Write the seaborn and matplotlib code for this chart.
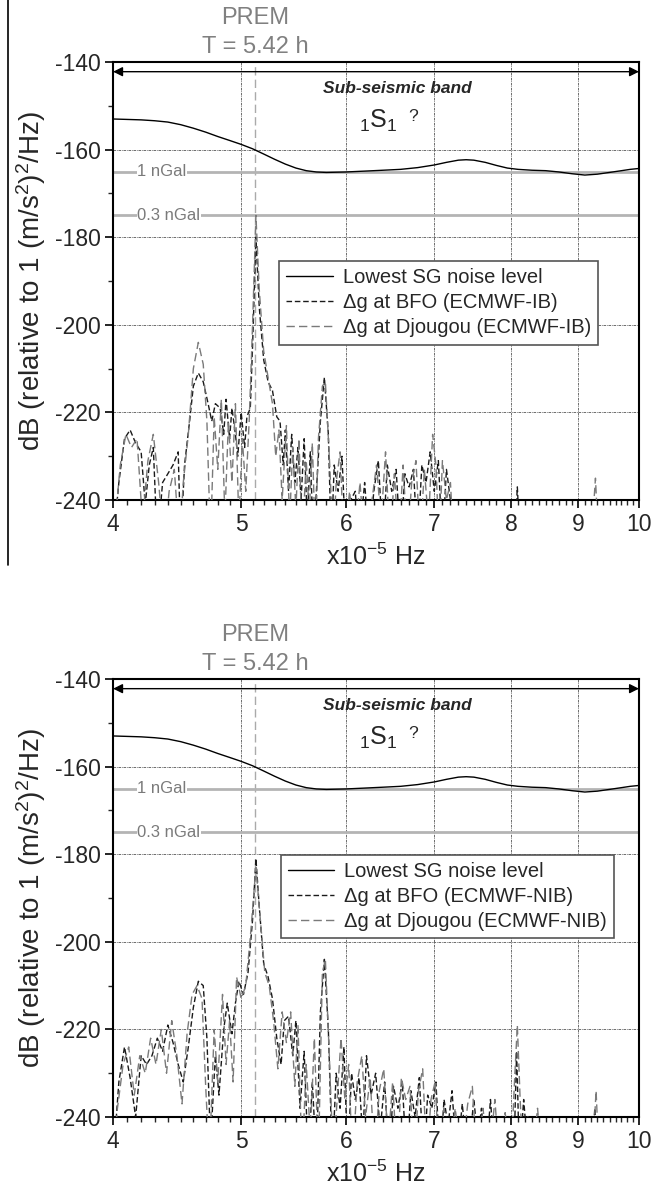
import numpy as np
import pandas as pd
import matplotlib
matplotlib.use("Agg")
import matplotlib.pyplot as plt
from matplotlib.ticker import FixedLocator, NullFormatter
from matplotlib.lines import Line2D
import seaborn as sns

# lowest SG noise level (dB), frequencies in 1e-5 Hz
noise_freq = [4.0, 4.1, 4.2, 4.3, 4.4, 4.5, 4.6, 4.7, 4.8, 4.9, 5.0, 5.1, 5.2, 5.3, 5.4, 5.5,
              5.6, 5.7, 5.8, 6.0, 6.2, 6.4, 6.6, 6.8, 7.0, 7.15, 7.3, 7.4, 7.5, 7.65, 7.8, 7.95,
              8.1, 8.3, 8.5, 8.7, 8.9, 9.1, 9.3, 9.5, 9.7, 9.85, 10.0]
noise_db = [-153.0, -153.1, -153.2, -153.4, -153.7, -154.3, -155.1, -156.0, -157.0, -157.9,
            -158.8, -159.8, -161.0, -162.2, -163.3, -164.2, -164.8, -165.1, -165.2, -165.1,
            -164.9, -164.7, -164.5, -164.1, -163.5, -162.9, -162.4, -162.3, -162.4, -162.9,
            -163.6, -164.2, -164.5, -164.7, -164.8, -165.1, -165.5, -165.8, -165.6, -165.2,
            -164.8, -164.5, -164.3]

# top panel (ECMWF-IB)
bfo_ib_freq = [4.00, 4.04, 4.08, 4.12, 4.16, 4.20, 4.23, 4.26, 4.29, 4.32, 4.36, 4.40, 4.44, 4.48,
               4.50, 4.53, 4.57, 4.60, 4.64, 4.68, 4.72, 4.75, 4.78, 4.82, 4.85, 4.87, 4.90, 4.92,
               4.95, 4.97, 5.00, 5.03, 5.05, 5.08, 5.10, 5.13, 5.16, 5.20, 5.24, 5.28, 5.32, 5.35,
               5.38, 5.40, 5.43, 5.46, 5.49, 5.52, 5.55, 5.58, 5.61, 5.64, 5.67, 5.70, 5.74, 5.78,
               5.82, 5.85, 5.88, 5.92, 5.96, 6.00, 6.05, 6.10, 6.14, 6.20, 6.25, 6.30, 6.35, 6.40,
               6.45, 6.50, 6.55, 6.60, 6.65, 6.70, 6.75, 6.80, 6.85, 6.90, 6.95, 7.00, 7.05, 7.10,
               7.15, 7.20, 7.25, 8.05, 8.09, 8.13]
bfo_ib_db = [-250, -236, -226, -224, -227, -229, -241, -232, -228, -250, -236, -234, -232, -229,
             -250, -232, -222, -214, -211, -213, -218, -222, -218, -219, -225, -217, -226, -219,
             -225, -230, -220, -228, -221, -219, -205, -180, -196, -208, -213, -215, -221, -222,
             -232, -224, -238, -225, -236, -228, -240, -226, -245, -229, -250, -238, -222, -212,
             -225, -250, -232, -238, -230, -250, -240, -238, -250, -236, -250, -238, -231, -250,
             -232, -238, -233, -250, -234, -237, -233, -250, -232, -236, -229, -238, -231, -250,
             -233, -240, -250, -250, -237, -250]

djg_ib_freq = [4.00, 4.05, 4.09, 4.13, 4.17, 4.21, 4.25, 4.29, 4.33, 4.37, 4.41, 4.45, 4.49, 4.52,
               4.56, 4.60, 4.64, 4.68, 4.71, 4.74, 4.77, 4.80, 4.83, 4.86, 4.89, 4.92, 4.95, 4.98,
               5.01, 5.04, 5.07, 5.10, 5.13, 5.16, 5.20, 5.24, 5.28, 5.31, 5.34, 5.37, 5.41, 5.44,
               5.47, 5.50, 5.53, 5.56, 5.60, 5.63, 5.66, 5.69, 5.72, 5.76, 5.79, 5.83, 5.87, 5.90,
               5.94, 5.98, 6.04, 6.09, 6.15, 6.20, 6.28, 6.33, 6.38, 6.43, 6.48, 6.53, 6.58, 6.63,
               6.68, 6.73, 6.78, 6.83, 6.88, 6.93, 6.98, 7.02, 7.06, 7.10, 7.15, 7.20, 7.24, 9.20,
               9.27, 9.32]
djg_ib_db = [-250, -232, -225, -228, -226, -245, -231, -225, -236, -250, -238, -233, -250, -236,
             -225, -210, -204, -209, -222, -250, -221, -233, -217, -244, -222, -236, -218, -245,
             -226, -238, -222, -200, -175, -192, -206, -212, -218, -230, -224, -240, -223, -245,
             -228, -242, -226, -250, -231, -243, -227, -250, -226, -214, -213, -230, -250, -236,
             -229, -250, -238, -250, -236, -250, -240, -232, -245, -229, -250, -234, -250, -232,
             -250, -236, -231, -250, -233, -245, -225, -232, -250, -231, -240, -236, -250, -250,
             -235, -250]

# bottom panel (ECMWF-NIB)
bfo_nib_freq = [4.00, 4.04, 4.08, 4.12, 4.16, 4.20, 4.24, 4.28, 4.32, 4.36, 4.40, 4.44, 4.48, 4.52,
                4.56, 4.60, 4.64, 4.68, 4.71, 4.74, 4.78, 4.81, 4.85, 4.88, 4.92, 4.95, 4.98, 5.02,
                5.06, 5.10, 5.13, 5.16, 5.20, 5.24, 5.28, 5.32, 5.36, 5.39, 5.43, 5.47, 5.50, 5.54,
                5.58, 5.62, 5.66, 5.70, 5.74, 5.78, 5.82, 5.86, 5.90, 5.94, 5.98, 6.02, 6.06, 6.10,
                6.14, 6.18, 6.22, 6.27, 6.32, 6.37, 6.42, 6.47, 6.52, 6.57, 6.62, 6.67, 6.72, 6.77,
                6.82, 6.87, 6.92, 6.97, 7.02, 7.07, 7.12, 7.17, 7.22, 7.28, 7.35, 7.42, 7.50, 7.55,
                7.60, 7.66, 7.72, 7.78, 7.84, 7.90, 7.98, 8.04, 8.08, 8.12, 8.18, 8.25, 8.32, 8.40,
                9.20, 9.26, 9.30]
bfo_nib_db = [-250, -232, -224, -231, -240, -226, -228, -226, -222, -225, -219, -223, -228, -232,
              -224, -215, -209, -210, -222, -246, -226, -235, -220, -214, -221, -214, -209, -212,
              -207, -195, -181, -192, -205, -208, -213, -222, -228, -218, -217, -226, -218, -238,
              -225, -250, -232, -250, -216, -204, -220, -250, -230, -238, -224, -250, -230, -236,
              -231, -245, -226, -235, -230, -243, -232, -250, -233, -238, -232, -250, -234, -240,
              -231, -250, -235, -238, -232, -250, -236, -242, -234, -250, -237, -250, -236, -245,
              -238, -250, -236, -250, -240, -250, -240, -250, -225, -250, -236, -250, -240, -250,
              -250, -238, -250]

djg_nib_freq = [4.00, 4.03, 4.07, 4.11, 4.15, 4.19, 4.23, 4.27, 4.31, 4.35, 4.39, 4.43, 4.47, 4.51,
                4.55, 4.59, 4.63, 4.67, 4.70, 4.73, 4.77, 4.80, 4.84, 4.87, 4.90, 4.93, 4.96, 5.00,
                5.04, 5.08, 5.13, 5.17, 5.21, 5.25, 5.29, 5.33, 5.37, 5.41, 5.45, 5.49, 5.52, 5.56,
                5.60, 5.64, 5.68, 5.72, 5.76, 5.79, 5.83, 5.87, 5.91, 5.95, 5.99, 6.03, 6.07, 6.12,
                6.17, 6.21, 6.26, 6.31, 6.36, 6.41, 6.46, 6.51, 6.56, 6.61, 6.66, 6.71, 6.76, 6.81,
                6.86, 6.91, 6.96, 7.01, 7.06, 7.12, 7.18, 7.26, 7.34, 7.42, 7.48, 7.54, 7.62, 7.70,
                7.78, 7.84, 7.92, 8.00, 8.05, 8.09, 8.13, 8.17, 8.24, 8.30, 8.38, 8.45, 9.22, 9.28,
                9.33]
djg_nib_db = [-250, -238, -228, -224, -235, -226, -230, -222, -228, -220, -230, -218, -226, -237,
              -221, -212, -210, -213, -233, -250, -220, -232, -212, -228, -218, -232, -208, -213,
              -210, -199, -183, -195, -207, -210, -218, -229, -216, -223, -216, -233, -219, -250,
              -228, -244, -222, -250, -207, -204, -226, -250, -236, -222, -236, -228, -250, -232,
              -226, -240, -231, -250, -234, -229, -246, -232, -250, -231, -236, -233, -250, -234,
              -229, -250, -236, -232, -250, -238, -250, -238, -250, -237, -233, -250, -238, -250,
              -236, -250, -239, -250, -232, -219, -236, -250, -240, -250, -238, -250, -250, -234,
              -250]

prem_freq = 5.125
ngal_levels = [-165, -175]
ngal_labels = ["1 nGal", "0.3 nGal"]
major_x = [4, 5, 6, 7, 8, 9, 10]
minor_x = [round(4 + 0.1 * i, 1) for i in range(61) if i % 10 != 0]

sns.set_theme(style="white")
plt.rcParams["font.family"] = ["Liberation Sans", "DejaVu Sans"]
plt.rcParams["mathtext.fontset"] = "custom"
plt.rcParams["mathtext.rm"] = "Liberation Sans"
plt.rcParams["mathtext.it"] = "Liberation Sans:italic"
plt.rcParams["axes.unicode_minus"] = False

fig = plt.figure(figsize=(6.54, 11.98), dpi=100)
ax_top = fig.add_axes([0.173, 0.5826, 0.804, 0.3656])
ax_bot = fig.add_axes([0.173, 0.0676, 0.804, 0.3656])

panels = [
    (ax_top, bfo_ib_freq, bfo_ib_db, djg_ib_freq, djg_ib_db, "IB", (0.316, 0.545)),
    (ax_bot, bfo_nib_freq, bfo_nib_db, djg_nib_freq, djg_nib_db, "NIB", (0.319, 0.598)),
]

grid_ls = (0, (3, 1, 1, 1))
for ax, bf, bd, dfq, dd, tag, leg_pos in panels:
    ax.set_xscale("log")
    ax.set_xlim(4, 10)
    ax.set_ylim(-240, -140)

    for xv in major_x[1:-1]:
        ax.axvline(xv, color="#555555", lw=0.6, ls=grid_ls, zorder=1)
    for yv in [-220, -200, -180, -160]:
        ax.axhline(yv, color="#555555", lw=0.6, ls=grid_ls, zorder=1)

    ax.axvline(prem_freq, color="#aaaaaa", lw=1.0, ls=(0, (6, 3)), zorder=1)

    for lev, lab in zip(ngal_levels, ngal_labels):
        ax.axhline(lev, color="#b4b4b4", lw=2.0, zorder=2)
        ax.text(0.046, lev, lab, transform=ax.get_yaxis_transform(), fontsize=12,
                color="#7a7a7a", va="center", ha="left", zorder=3,
                bbox=dict(facecolor="white", edgecolor="none", pad=0.5))

    sns.lineplot(x=noise_freq, y=noise_db, ax=ax, color="black", lw=1.0, sort=False,
                 estimator=None, zorder=4)
    sns.lineplot(x=bf, y=bd, ax=ax, color="#1a1a1a", lw=1.0, sort=False,
                 estimator=None, zorder=5, dashes=False)
    sns.lineplot(x=dfq, y=dd, ax=ax, color="#7a7a7a", lw=1.0, sort=False,
                 estimator=None, zorder=5, dashes=False)
    lines = ax.get_lines()
    lines[-2].set_linestyle((0, (4, 2)))
    lines[-1].set_linestyle((0, (6, 3)))

    ax.annotate("", xy=(1.0, -142.2), xytext=(0.0, -142.2),
                xycoords=("axes fraction", "data"), textcoords=("axes fraction", "data"),
                arrowprops=dict(arrowstyle="<|-|>", color="black", lw=1.0,
                                mutation_scale=14, shrinkA=0, shrinkB=0), zorder=6)
    ax.text(0.54, -146.0, "Sub-seismic band", transform=ax.get_yaxis_transform(),
            fontsize=12.5, fontweight="bold", fontstyle="italic", ha="center", va="center")
    ax.text(0.505, -153.5, r"$_1$S$_1$", transform=ax.get_yaxis_transform(),
            fontsize=18, ha="center", va="center")
    ax.text(0.57, -152.5, "?", transform=ax.get_yaxis_transform(),
            fontsize=12.5, ha="center", va="center")

    ax.text(prem_freq, -130.0, "PREM", fontsize=17, color="#808080", ha="center",
            va="center", clip_on=False)
    ax.text(prem_freq, -136.6, "T = 5.42 h", fontsize=17, color="#808080", ha="center",
            va="center", clip_on=False)

    ax.xaxis.set_major_locator(FixedLocator(major_x))
    ax.set_xticklabels([str(v) for v in major_x])
    ax.xaxis.set_minor_locator(FixedLocator(minor_x))
    ax.xaxis.set_minor_formatter(NullFormatter())
    ax.set_yticks([-240, -220, -200, -180, -160, -140])
    ax.set_yticks([-230, -210, -190, -170, -150], minor=True)
    ax.tick_params(axis="both", which="major", direction="out", length=6, width=1.2,
                   labelsize=16.5, pad=3, color="black", bottom=True, left=True)
    ax.tick_params(axis="both", which="minor", direction="out", length=3.5, width=1.0,
                   bottom=True, left=True)
    ax.tick_params(top=False, right=False, which="both")
    for sp in ax.spines.values():
        sp.set_color("black")
        sp.set_linewidth(1.5)

    ax.set_xlabel(r"x10$^{-5}$ Hz", fontsize=18, labelpad=6)
    ax.set_ylabel(r"dB (relative to 1 (m/s$^2$)$^2$/Hz)", fontsize=20, labelpad=5)

    handles = [
        Line2D([], [], color="black", lw=1.0),
        Line2D([], [], color="#1a1a1a", lw=1.0, ls=(0, (4, 2))),
        Line2D([], [], color="#7a7a7a", lw=1.0, ls=(0, (6, 3))),
    ]
    labels = ["Lowest SG noise level", f"\u0394g at BFO (ECMWF-{tag})",
              f"\u0394g at Djougou (ECMWF-{tag})"]
    leg = ax.legend(handles, labels, loc="upper left", bbox_to_anchor=leg_pos, fontsize=14.5,
                    frameon=True, fancybox=False, framealpha=1, edgecolor="#555555",
                    handlelength=2.3, handletextpad=0.5, borderpad=0.35, labelspacing=0.3,
                    borderaxespad=0)
    leg.get_frame().set_linewidth(1.2)
    leg.set_zorder(7)

fig.add_artist(Line2D([0.012, 0.012], [1.0, 0.528], color="black", lw=1.2,
                      transform=fig.transFigure))

fig.savefig("out.png", dpi=100, facecolor="white")
